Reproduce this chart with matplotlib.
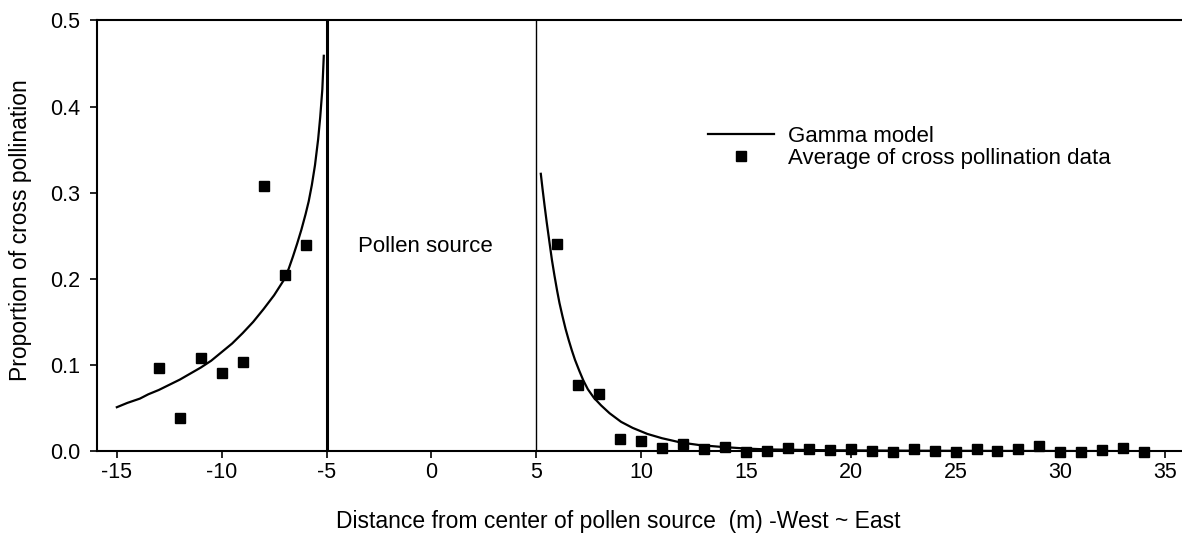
import numpy as np
import matplotlib
matplotlib.use("Agg")
import matplotlib.pyplot as plt

plt.rcParams['font.family'] = ['Liberation Sans', 'DejaVu Sans']

# observed averages (west side, east side)
west_x = [-13, -12, -11, -10, -9, -8, -7, -6]
west_y = [0.097, 0.039, 0.108, 0.091, 0.103, 0.308, 0.205, 0.239]
east_x = list(range(6, 35))
east_y = [0.240, 0.077, 0.066, 0.014, 0.012, 0.004, 0.008, 0.003, 0.005,
          -0.001, 0.000, 0.004, 0.002, 0.001, 0.002, 0.000, -0.001, 0.002,
          0.000, -0.001, 0.002, 0.000, 0.002, 0.006, -0.001, -0.001, 0.001,
          0.004, -0.001]

# gamma model curve
gw_x = [-15, -14.5, -13.9, -13.5, -13.0, -12.5, -12.0, -11.5, -11.0, -10.5,
        -10.0, -9.5, -9.0, -8.5, -8.0, -7.5, -7.0, -6.8, -6.6, -6.4, -6.2,
        -6.0, -5.85, -5.7, -5.55, -5.4, -5.3, -5.2, -5.13]
gw_y = [0.051, 0.056, 0.061, 0.066, 0.071, 0.077, 0.083, 0.090, 0.097, 0.105,
        0.115, 0.125, 0.137, 0.150, 0.165, 0.181, 0.200, 0.212, 0.226, 0.241,
        0.257, 0.275, 0.290, 0.309, 0.332, 0.362, 0.388, 0.420, 0.459]
ge_x = [5.22, 5.3, 5.4, 5.5, 5.63, 5.75, 5.87, 6.0, 6.11, 6.25, 6.4, 6.55,
        6.7, 6.85, 7.06, 7.25, 7.46, 7.75, 8.1, 8.5, 9.05, 9.6, 10.3, 11.0,
        11.9, 12.8, 13.8, 15.0, 16.0, 17.5, 19.0, 23.0, 28.0, 35.0]
ge_y = [0.322, 0.305, 0.285, 0.266, 0.243, 0.222, 0.204, 0.186, 0.172, 0.157,
        0.142, 0.129, 0.117, 0.106, 0.093, 0.082, 0.072, 0.062, 0.053, 0.044,
        0.034, 0.027, 0.020, 0.015, 0.010, 0.007, 0.005, 0.003, 0.002, 0.0015,
        0.001, 0.0005, 0.0002, 0.0]

xticks = [-15, -10, -5, 0, 5, 10, 15, 20, 25, 30, 35]
yticks = [0.0, 0.1, 0.2, 0.3, 0.4, 0.5]

fig = plt.figure(figsize=(11.82, 5.39), dpi=100)
ax = fig.add_axes([0.082, 0.163, 0.918, 0.799])

line, = ax.plot(gw_x, gw_y, color='black', lw=1.6, label='Gamma model')
ax.plot(ge_x, ge_y, color='black', lw=1.6)
pts, = ax.plot(west_x, west_y, 's', color='black', ms=7, clip_on=False,
               label='Average of cross pollination data')
ax.plot(east_x, east_y, 's', color='black', ms=7, clip_on=False)

ax.axvline(-5, color='black', lw=2.2)
ax.axvline(5, color='black', lw=1.0)

ax.text(-3.5, 0.238, 'Pollen source', fontsize=16, va='center', ha='left')

ax.set_xlim(-15.95, 35.8)
ax.set_ylim(0, 0.5)
ax.set_xticks(xticks)
ax.set_xticklabels([str(t) for t in xticks])
ax.set_yticks(yticks)
ax.set_yticklabels(['%.1f' % t for t in yticks])
ax.tick_params(labelsize=15.5, width=1.2, length=5, direction='out')
ax.tick_params(axis='x', pad=3)
ax.tick_params(axis='y', pad=7)
ax.spines['right'].set_visible(False)
for s in ['left', 'bottom', 'top']:
    ax.spines[s].set_linewidth(1.5)

ax.set_xlabel('Distance from center of pollen source  (m) -West ~ East', fontsize=16.5)
ax.xaxis.set_label_coords(0.48, -0.163)
ax.xaxis.label.set_va('center')
ax.set_ylabel('Proportion of cross pollination', fontsize=16.5)
ax.yaxis.set_label_coords(-0.070, 0.513)
ax.yaxis.label.set_va('center')

ax.legend(handles=[line, pts], loc='upper left', bbox_to_anchor=(0.563, 0.755),
          frameon=False, fontsize=16, handlelength=3.0, handletextpad=0.6,
          labelspacing=0.05, borderpad=0, borderaxespad=0)

fig.savefig('out.png', dpi=100)
